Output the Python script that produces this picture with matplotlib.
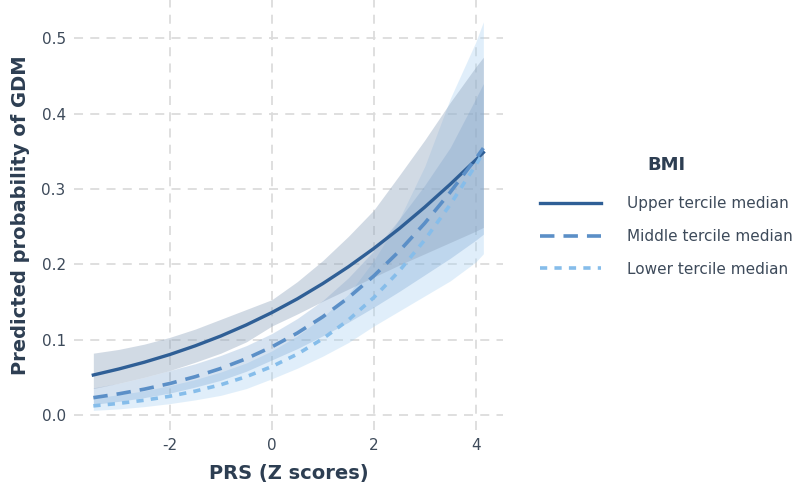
import matplotlib.pyplot as plt
import numpy as np

plt.rcParams['axes.unicode_minus'] = False

# PRS grid (Z scores)
prs = [-3.5, -3.0, -2.5, -2.0, -1.5, -1.0, -0.5, 0.0, 0.5, 1.0, 1.5, 2.0, 2.5, 3.0, 3.5, 4.0, 4.15]

# predicted probability of GDM by BMI tercile median
upper_fit = [0.0530, 0.0610, 0.0700, 0.0802, 0.0918, 0.1048, 0.1195, 0.1359, 0.1541,
             0.1744, 0.1966, 0.2210, 0.2474, 0.2759, 0.3063, 0.3385, 0.3485]
upper_lo = [0.035, 0.042, 0.050, 0.059, 0.070, 0.082, 0.097, 0.118, 0.134,
            0.151, 0.167, 0.183, 0.199, 0.214, 0.229, 0.244, 0.249]
upper_hi = [0.082, 0.087, 0.094, 0.103, 0.114, 0.127, 0.140, 0.153, 0.177,
            0.205, 0.237, 0.272, 0.318, 0.365, 0.415, 0.462, 0.475]

middle_fit = [0.0229, 0.0280, 0.0342, 0.0417, 0.0508, 0.0617, 0.0747, 0.0903, 0.1087,
              0.1303, 0.1555, 0.1845, 0.2175, 0.2546, 0.2957, 0.3403, 0.3543]
middle_lo = [0.014, 0.018, 0.023, 0.029, 0.037, 0.046, 0.058, 0.073, 0.088,
             0.105, 0.123, 0.143, 0.164, 0.186, 0.208, 0.232, 0.240]
middle_hi = [0.036, 0.042, 0.050, 0.059, 0.068, 0.079, 0.092, 0.108, 0.128,
             0.152, 0.182, 0.218, 0.260, 0.305, 0.355, 0.420, 0.440]

lower_fit = [0.0120, 0.0153, 0.0195, 0.0248, 0.0316, 0.0401, 0.0508, 0.0642, 0.0807,
             0.1011, 0.1259, 0.1558, 0.1911, 0.2324, 0.2794, 0.3318, 0.3485]
lower_lo = [0.006, 0.008, 0.011, 0.015, 0.020, 0.026, 0.035, 0.048, 0.062,
            0.078, 0.096, 0.118, 0.138, 0.158, 0.178, 0.203, 0.214]
lower_hi = [0.022, 0.027, 0.032, 0.039, 0.047, 0.057, 0.069, 0.085, 0.105,
            0.130, 0.160, 0.205, 0.260, 0.330, 0.420, 0.495, 0.522]

labels = ['Upper tercile median', 'Middle tercile median', 'Lower tercile median']

text_col = '#2d3e52'
tick_col = '#3d4a5a'

fig = plt.figure(figsize=(7.98, 4.94), dpi=100)
ax = fig.add_axes([0.0927, 0.1296, 0.5373, 0.8704])

# ribbons (lower first so upper sits on top)
ax.fill_between(prs, lower_lo, lower_hi, color='#a8d1f2', alpha=0.35, linewidth=0)
ax.fill_between(prs, middle_lo, middle_hi, color='#5b8fc7', alpha=0.25, linewidth=0)
ax.fill_between(prs, upper_lo, upper_hi, color='#8ea3bd', alpha=0.4, linewidth=0)

ax.plot(prs, upper_fit, color='#2f5f96', linewidth=2.4, linestyle='-', label=labels[0])
ax.plot(prs, middle_fit, color='#5b8fc7', linewidth=2.6, linestyle=(0, (4, 2.5)), label=labels[1])
ax.plot(prs, lower_fit, color='#86bdea', linewidth=2.6, linestyle=(0, (2, 2)), label=labels[2])

ax.set_xlim(-3.88, 4.53)
ax.set_ylim(-0.02, 0.551)
ax.set_xticks([-2, 0, 2, 4])
ax.set_yticks([0.0, 0.1, 0.2, 0.3, 0.4, 0.5])
ax.set_yticklabels(['0.0', '0.1', '0.2', '0.3', '0.4', '0.5'])
ax.grid(True, linestyle=(0, (5, 4)), color='#dcdcdc', linewidth=1.3)
ax.set_axisbelow(True)
for s in ax.spines.values():
    s.set_visible(False)
ax.tick_params(length=0, labelsize=11, colors=tick_col, pad=6)

ax.set_xlabel('PRS (Z scores)', fontsize=14, fontweight='bold', color=text_col, labelpad=8)
ax.set_ylabel('Predicted probability of GDM', fontsize=14, fontweight='bold', color=text_col, labelpad=8)

leg = fig.legend(loc='center left', bbox_to_anchor=(0.659, 0.562), frameon=False,
                 title='BMI', fontsize=11, handlelength=4.0, handletextpad=1.7,
                 labelspacing=1.15)
leg.get_title().set_fontweight('bold')
leg.get_title().set_fontsize(13)
leg.get_title().set_color(text_col)
leg._legend_box.sep = 16
for t in leg.get_texts():
    t.set_color(tick_col)

fig.savefig('out.png', dpi=100)
